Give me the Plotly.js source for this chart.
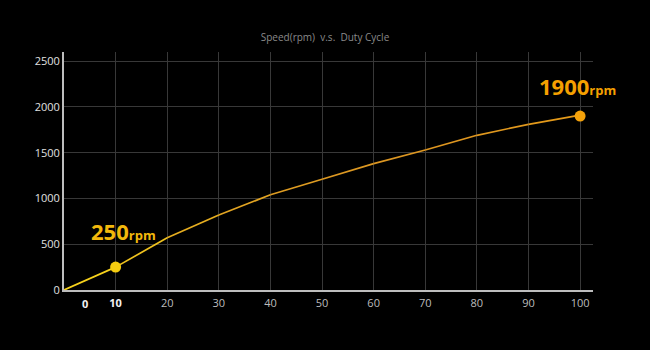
<!DOCTYPE html>
<html><head><meta charset="utf-8">
<script src="https://cdn.plot.ly/plotly-3.0.1.min.js"></script>
<style>html,body{margin:0;padding:0;background:#000;}</style>
</head><body>
<div id="chart" style="width:650px;height:350px;"></div>
<script>
const dutyCycle = [0, 10, 20, 30, 40, 50, 60, 70, 80, 90, 100];
const speedRpm = [0, 250, 570, 820, 1040, 1210, 1380, 1530, 1690, 1810, 1910];
const xTickVals = [10, 20, 30, 40, 50, 60, 70, 80, 90, 100];
const xTickText = ['10', '20', '30', '40', '50', '60', '70', '80', '90', '100'];
const yTickVals = [0, 500, 1000, 1500, 2000, 2500];
const highlightX = [10, 100];
const highlightY = [250, 1900];
const highlightLabels = ['250', '1900'];

const segColors = ['#f7d21c','#efc21e','#e6ae20','#e2a422','#de9c22','#dc9822','#dc9622','#de9620','#e0981e','#e49a1a'];
const traces = [];
for (let i = 0; i < dutyCycle.length - 1; i++) {
  traces.push({
    x: [dutyCycle[i], dutyCycle[i+1]], y: [speedRpm[i], speedRpm[i+1]],
    mode: 'lines', line: {color: segColors[i], width: 1.7},
    hoverinfo: 'skip', showlegend: false
  });
}
traces.push({
  x: highlightX, y: highlightY, mode: 'markers',
  marker: {size: 11, color: ['#f5cc10', '#f5a20a']},
  showlegend: false
});

const annColors = ['#f2b80c', '#f5a000'];
const annY = [640, 2230];
const annX = [11.5, 99.5];
const annotations = highlightLabels.map((t, i) => ({
  x: annX[i], y: annY[i], xref: 'x', yref: 'y', showarrow: false,
  text: '<b>' + t + '</b><span style="font-size:13px"><b>rpm</b></span>',
  font: {family: 'Open Sans', size: 22, color: annColors[i]},
  yanchor: 'middle'
}));
annotations.push({
  x: 4, y: 0, xref: 'x', yref: 'y', yshift: -13, showarrow: false,
  text: '<b>0</b>', font: {family: 'Open Sans', size: 11, color: '#f2f2f2'}, yanchor: 'middle'
});

const tickTextStyled = xTickText.map(t => t === '10' ? '<span style="color:#f2f2f2"><b>10</b></span>' : t);

const layout = {
  width: 650, height: 350,
  paper_bgcolor: '#000', plot_bgcolor: '#000',
  margin: {l: 64, r: 57, t: 52, b: 60},
  title: {text: 'Speed(rpm)  v.s.  Duty Cycle', font: {family: 'Open Sans', size: 10, color: '#8a8a8a'}, x: 0.5, xanchor: 'center', y: 0.893, yanchor: 'middle'},
  xaxis: {
    range: [0, 102.5], tickvals: xTickVals, ticktext: tickTextStyled,
    showgrid: true, gridcolor: '#383838', gridwidth: 1,
    showline: true, linecolor: '#bdbdbd', linewidth: 2,
    zeroline: false, ticks: '', ticklabelstandoff: 2,
    tickfont: {family: 'Open Sans', size: 11, color: '#bcbcbd'}, fixedrange: true
  },
  yaxis: {
    range: [0, 2600], tickvals: yTickVals,
    showgrid: true, gridcolor: '#383838', gridwidth: 1,
    showline: true, linecolor: '#bdbdbd', linewidth: 2,
    zeroline: false, ticks: '',
    tickfont: {family: 'Open Sans', size: 11, color: '#e0e0e0'}, fixedrange: true
  },
  annotations: annotations,
  showlegend: false
};
Plotly.newPlot('chart', traces, layout, {displayModeBar: false, staticPlot: true});
</script>
</body></html>
